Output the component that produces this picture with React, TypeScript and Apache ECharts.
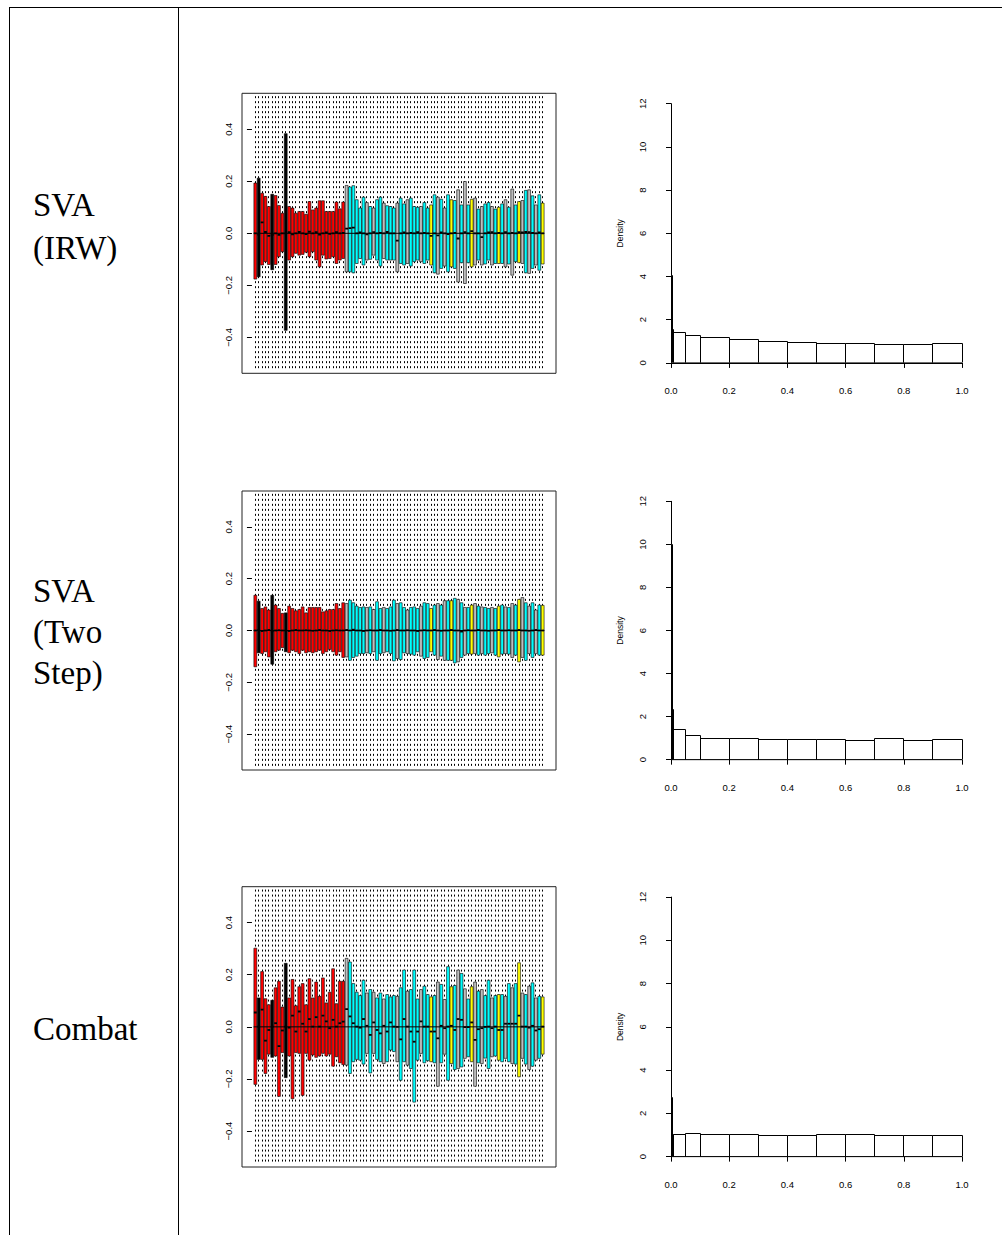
import React, { useEffect, useRef } from "react";
import * as echarts from "echarts";

// ---------------- data ----------------
const ROW_LABELS: string[][] = [["SVA", "(IRW)"], ["SVA", "(Two", "Step)"], ["Combat"]];

// batch colour of every sample (same order in all three panels)
const BATCH_CODES =
  "RKRRRKRRRKRRRRRRRRRRRRRRRRR" +
  "GCCCCCGCGCCGCCCGCCGCCCGCCYCGCGCYCGCGCYGCGCCGCYCGCGCYGCGCGCY";
const BATCH_COLORS: Record<string, string> = {
  R: "#ff0000",
  K: "#000000",
  C: "#00ffff",
  G: "#bebebe",
  Y: "#ffff00",
};

// whisker ends (beyond the visible range)
const WHISKER_LOW = -0.527;
const WHISKER_HIGH = 0.527;

// ---- panel 1: SVA (IRW) ----
const P1_Q3 = [
  0.193, 0.212, 0.154, 0.142, 0.103, 0.15, 0.145, 0.107, 0.077, 0.383, 0.103, 0.097, 0.077, 0.084, 0.084, 0.073, 0.122,
  0.09, 0.097, 0.125, 0.125, 0.084, 0.084, 0.084, 0.12, 0.094, 0.12,
  0.184, 0.178, 0.183, 0.129, 0.097, 0.139, 0.118, 0.103, 0.097, 0.129, 0.139, 0.116, 0.106, 0.103, 0.097, 0.116, 0.135,
  0.113, 0.129, 0.135, 0.103, 0.1, 0.103, 0.118, 0.097, 0.109, 0.148, 0.139, 0.131, 0.097, 0.148, 0.129, 0.126, 0.167,
  0.109, 0.199, 0.109, 0.131, 0.135, 0.093, 0.103, 0.113, 0.118, 0.103, 0.093, 0.1, 0.113, 0.129, 0.1, 0.17, 0.109,
  0.122, 0.126, 0.165, 0.167, 0.144, 0.109, 0.148, 0.116,
];
const P1_Q1 = [
  -0.176, -0.167, -0.122, -0.109, -0.12, -0.14, -0.12, -0.09, -0.071, -0.373, -0.103, -0.09, -0.077, -0.084, -0.081,
  -0.073, -0.09, -0.071, -0.103, -0.129, -0.084, -0.099, -0.097, -0.09, -0.116, -0.103, -0.097,
  -0.148, -0.148, -0.152, -0.116, -0.097, -0.122, -0.103, -0.1, -0.084, -0.103, -0.126, -0.097, -0.103, -0.103, -0.103,
  -0.148, -0.116, -0.122, -0.116, -0.126, -0.109, -0.103, -0.109, -0.116, -0.103, -0.122, -0.152, -0.157, -0.135,
  -0.126, -0.148, -0.129, -0.135, -0.187, -0.113, -0.193, -0.113, -0.129, -0.122, -0.103, -0.122, -0.118, -0.103,
  -0.122, -0.116, -0.116, -0.116, -0.129, -0.118, -0.161, -0.109, -0.113, -0.116, -0.152, -0.154, -0.135, -0.122,
  -0.142, -0.118,
];
const P1_MED = [
  0.0, -0.005, 0.042, 0.005, -0.01, -0.006, 0.0, -0.006, 0.0, 0.0, 0.004, -0.004, 0.0, 0.005, 0.0, -0.003, 0.006, 0.0,
  0.004, -0.005, 0.0, 0.003, -0.002, 0.0, 0.004, 0.0, 0.002,
  0.018, 0.02, 0.022, 0.0, 0.003, 0.0, -0.004, 0.0, 0.004, 0.0, 0.002, 0.0, 0.005, 0.0, 0.0, -0.028, 0.0, 0.003, 0.0,
  0.002, 0.0, 0.004, 0.0, 0.002, 0.0, -0.01, 0.0, -0.008, 0.003, 0.0, -0.003, 0.0, 0.002, -0.02, 0.0, 0.004, 0.0, 0.008,
  0.0, 0.0, -0.015, 0.0, 0.003, 0.004, 0.0, 0.002, 0.0, 0.004, 0.0, 0.002, 0.0, 0.004, 0.003, 0.005, 0.004, 0.002, 0.0,
  0.003, 0.0,
];

// ---- panel 2: SVA (Two Step) ----
const P2_Q3 = [
  0.136, 0.113, 0.085, 0.091, 0.079, 0.136, 0.098, 0.085, 0.066, 0.068, 0.094, 0.085, 0.076, 0.081, 0.091, 0.068, 0.089,
  0.089, 0.089, 0.089, 0.072, 0.076, 0.081, 0.081, 0.104, 0.085, 0.107,
  0.104, 0.117, 0.107, 0.094, 0.089, 0.091, 0.089, 0.091, 0.081, 0.111, 0.085, 0.089, 0.085, 0.091, 0.117, 0.104, 0.107,
  0.089, 0.079, 0.089, 0.091, 0.085, 0.094, 0.107, 0.104, 0.085, 0.098, 0.104, 0.098, 0.115, 0.115, 0.115, 0.124, 0.12,
  0.107, 0.089, 0.089, 0.098, 0.104, 0.094, 0.091, 0.089, 0.085, 0.089, 0.085, 0.094, 0.098, 0.091, 0.089, 0.104, 0.098,
  0.12, 0.127, 0.107, 0.094, 0.107, 0.079, 0.098, 0.097,
];
const P2_Q1 = [
  -0.14, -0.086, -0.089, -0.082, -0.102, -0.13, -0.082, -0.076, -0.066, -0.082, -0.086, -0.076, -0.082, -0.089, -0.076,
  -0.086, -0.082, -0.086, -0.082, -0.076, -0.089, -0.082, -0.073, -0.082, -0.095, -0.082, -0.104,
  -0.102, -0.115, -0.104, -0.099, -0.089, -0.089, -0.086, -0.089, -0.082, -0.115, -0.089, -0.086, -0.082, -0.089,
  -0.117, -0.108, -0.112, -0.086, -0.089, -0.091, -0.095, -0.082, -0.099, -0.108, -0.104, -0.082, -0.095, -0.112,
  -0.099, -0.115, -0.115, -0.115, -0.125, -0.121, -0.104, -0.095, -0.089, -0.091, -0.089, -0.095, -0.089, -0.095,
  -0.089, -0.086, -0.095, -0.102, -0.091, -0.089, -0.091, -0.104, -0.095, -0.121, -0.104, -0.115, -0.089, -0.104,
  -0.089, -0.095, -0.095,
];
const P2_MED = [
  0.0, 0.002, -0.002, 0.0, 0.002, -0.003, 0.0, 0.001, 0.0, 0.0, -0.002, 0.0, 0.002, 0.0, 0.0, 0.001, 0.0, -0.001, 0.0,
  0.002, 0.0, 0.0, -0.002, 0.0, 0.001, 0.0, 0.0,
  0.002, 0.0, 0.003, 0.0, 0.0, -0.002, 0.0, 0.001, 0.0, 0.0, 0.002, 0.0, 0.0, -0.001, 0.0, 0.002, 0.0, 0.0, 0.001, 0.0,
  0.0, -0.002, 0.0, 0.001, 0.0, 0.0, 0.002, 0.0, -0.001, 0.0, 0.0, 0.002, 0.0, 0.0, -0.004, 0.0, 0.001, 0.0, 0.0, 0.002,
  0.0, 0.0, -0.001, 0.0, 0.0, 0.002, 0.0, 0.0, 0.001, 0.0, 0.0, 0.002, 0.0, 0.0, -0.001, 0.0, 0.002, 0.0, 0.0,
];

// ---- panel 3: Combat ----
const P3_Q3 = [
  0.302, 0.111, 0.212, 0.108, 0.085, 0.102, 0.15, 0.175, 0.076, 0.244, 0.111, 0.182, 0.081, 0.154, 0.166, 0.085, 0.185,
  0.111, 0.172, 0.117, 0.188, 0.092, 0.133, 0.223, 0.089, 0.175, 0.175,
  0.263, 0.249, 0.166, 0.133, 0.12, 0.179, 0.13, 0.143, 0.133, 0.111, 0.13, 0.107, 0.124, 0.115, 0.12, 0.117, 0.15,
  0.218, 0.137, 0.143, 0.218, 0.107, 0.143, 0.156, 0.124, 0.115, 0.12, 0.172, 0.163, 0.105, 0.231, 0.154, 0.159, 0.218,
  0.205, 0.146, 0.107, 0.154, 0.172, 0.137, 0.143, 0.12, 0.179, 0.111, 0.12, 0.124, 0.124, 0.117, 0.166, 0.15, 0.166,
  0.246, 0.13, 0.124, 0.156, 0.169, 0.111, 0.117, 0.115,
];
const P3_Q1 = [
  -0.221, -0.125, -0.125, -0.179, -0.105, -0.117, -0.112, -0.267, -0.099, -0.195, -0.112, -0.276, -0.099, -0.102,
  -0.263, -0.102, -0.128, -0.108, -0.117, -0.112, -0.102, -0.112, -0.105, -0.151, -0.115, -0.138, -0.145,
  -0.147, -0.179, -0.134, -0.125, -0.128, -0.143, -0.102, -0.177, -0.102, -0.125, -0.134, -0.141, -0.134, -0.089,
  -0.095, -0.134, -0.205, -0.134, -0.147, -0.16, -0.289, -0.128, -0.102, -0.138, -0.13, -0.134, -0.138, -0.228, -0.138,
  -0.105, -0.205, -0.141, -0.164, -0.16, -0.154, -0.121, -0.115, -0.134, -0.228, -0.138, -0.141, -0.12, -0.16, -0.115,
  -0.112, -0.128, -0.134, -0.121, -0.134, -0.141, -0.143, -0.192, -0.121, -0.143, -0.164, -0.151, -0.128, -0.121,
  -0.105,
];
const P3_MED = [
  0.055, 0.001, 0.066, -0.053, -0.012, 0.001, 0.014, -0.074, -0.014, 0.001, -0.003, 0.043, -0.018, 0.059, 0.012, -0.018,
  0.03, 0.001, 0.037, 0.001, 0.043, 0.021, -0.005, 0.027, 0.001, 0.014, 0.02,
  0.068, 0.04, 0.014, 0.001, -0.003, 0.03, 0.004, -0.031, 0.017, -0.012, -0.025, 0.004, -0.018, 0.017, 0.001, 0.0,
  -0.048, 0.03, 0.001, -0.018, -0.057, -0.018, 0.021, 0.001, 0.001, -0.018, -0.018, -0.044, 0.004, -0.005, 0.001, 0.004,
  -0.012, 0.03, 0.027, -0.001, -0.001, 0.017, -0.05, -0.009, -0.005, 0.0, 0.001, -0.005, 0.001, -0.012, -0.012, 0.012,
  0.012, 0.012, 0.012, 0.043, 0.001, 0.001, -0.003, 0.004, -0.014, -0.009, 0.001,
];

const Y_TICKS = [-0.4, -0.2, 0, 0.2, 0.4];

// ---- p-value histograms ----
const HIST_BREAKS = [0, 0.001, 0.01, 0.05, 0.1, 0.2, 0.3, 0.4, 0.5, 0.6, 0.7, 0.8, 0.9, 1.0];
const HIST1_DENSITY = [4.05, 1.56, 1.4, 1.28, 1.2, 1.07, 1.0, 0.93, 0.89, 0.89, 0.85, 0.85, 0.89];
const HIST2_DENSITY = [10.0, 2.31, 1.42, 1.11, 1.0, 1.0, 0.95, 0.96, 0.94, 0.89, 1.0, 0.91, 0.96];
const HIST3_DENSITY = [2.73, 1.0, 1.0, 1.05, 1.0, 1.03, 0.98, 0.99, 1.03, 1.0, 0.99, 0.98, 0.97];

// ---------------- layout ----------------
const W = 1002;
const H = 1235;
const PANEL_V: [number, number][] = [
  [93.3, 373.3],
  [491, 770],
  [886.7, 1167],
];
const BOX_LEFT = 242;
const BOX_WIDTH = 314;
const HIST_LEFT = 671;
const HIST_WIDTH = 291;
const LABEL_X = 33;
const LABEL_Y: number[][] = [[205, 248], [591, 632, 673], [1029]];

const FONT_SANS = "'Liberation Sans', Arial, Helvetica, sans-serif";
const FONT_SERIF = "'Liberation Serif', 'DejaVu Serif', serif";

const crisp = (v: number) => Math.round(v - 0.5) + 0.5;

const App: React.FC = () => {
  const ref = useRef<HTMLDivElement>(null);

  useEffect(() => {
    document.body.style.margin = "0";
    if (!ref.current) return;
    const chart = echarts.init(ref.current, undefined, { renderer: "svg", width: W, height: H });

    const n = BATCH_CODES.length;
    const xMin = 0.5 - 0.04 * n;
    const xMax = n + 0.5 + 0.04 * n;
    const halfBox = 0.42;

    const panels = [
      { q1: P1_Q1, med: P1_MED, q3: P1_Q3, hist: HIST1_DENSITY },
      { q1: P2_Q1, med: P2_MED, q3: P2_Q3, hist: HIST2_DENSITY },
      { q1: P3_Q1, med: P3_MED, q3: P3_Q3, hist: HIST3_DENSITY },
    ];

    const grids: any[] = [];
    const xAxes: any[] = [];
    const yAxes: any[] = [];
    const series: any[] = [];

    const fmt = (v: number) => {
      const s = (Math.abs(v) < 1e-9 ? 0 : v).toFixed(1);
      return s.replace("-", "\u2212");
    };

    panels.forEach((p, i) => {
      const [T, B] = PANEL_V[i];
      const boxGrid = i * 2;
      const histGrid = i * 2 + 1;
      grids.push({
        left: BOX_LEFT,
        top: T,
        width: BOX_WIDTH,
        height: B - T,
        show: true,
        borderColor: "#222",
        borderWidth: 1,
        backgroundColor: "transparent",
        containLabel: false,
        outerBoundsMode: "none",
      });
      const hh = (B - T) / 1.08;
      grids.push({
        left: HIST_LEFT,
        top: T + (B - T) * (0.04 / 1.08),
        width: HIST_WIDTH,
        height: hh,
        show: false,
        containLabel: false,
        outerBoundsMode: "none",
      });

      xAxes.push({
        gridIndex: boxGrid,
        type: "value",
        min: xMin,
        max: xMax,
        show: false,
      });
      yAxes.push({
        gridIndex: boxGrid,
        type: "value",
        min: -0.538,
        max: 0.538,
        axisLine: { show: false },
        axisTick: {
          show: true,
          inside: false,
          length: 5,
          customValues: Y_TICKS,
          lineStyle: { color: "#000", width: 1 },
        },
        axisLabel: {
          show: true,
          customValues: Y_TICKS,
          rotate: 90,
          margin: 9,
          fontSize: 9.5,
          color: "#000",
          fontFamily: FONT_SANS,
          formatter: fmt,
        },
        splitLine: { show: false },
      });

      xAxes.push({
        gridIndex: histGrid,
        type: "value",
        min: 0,
        max: 1,
        interval: 0.2,
        offset: 10,
        axisLine: { show: true, lineStyle: { color: "#000", width: 1 } },
        axisTick: { show: true, length: 5, lineStyle: { color: "#000", width: 1 } },
        axisLabel: {
          margin: 13,
          fontSize: 9.5,
          color: "#000",
          fontFamily: FONT_SANS,
          formatter: (v: number) => v.toFixed(1),
        },
        splitLine: { show: false },
      });
      yAxes.push({
        gridIndex: histGrid,
        type: "value",
        min: 0,
        max: 12,
        interval: 2,
        offset: 11.6,
        name: "Density",
        nameLocation: "middle",
        nameRotate: 90,
        nameGap: 35,
        nameTextStyle: { fontSize: 8.5, color: "#000", fontFamily: FONT_SANS },
        axisLine: { show: true, lineStyle: { color: "#000", width: 1 } },
        axisTick: { show: true, length: 5, lineStyle: { color: "#000", width: 1 } },
        axisLabel: {
          rotate: 90,
          margin: 12,
          fontSize: 9.5,
          color: "#000",
          fontFamily: FONT_SANS,
        },
        splitLine: { show: false },
      });

      const boxData = p.q1.map((v, k) => [k + 1, v, p.med[k], p.q3[k], k]);

      // dashed whiskers
      series.push({
        type: "custom",
        xAxisIndex: boxGrid,
        yAxisIndex: boxGrid,
        clip: true,
        silent: true,
        z: 1,
        data: boxData,
        encode: { x: 0, y: [1, 3] },
        renderItem: (_params: any, api: any) => {
          const x = api.value(0);
          const a = api.coord([x, WHISKER_HIGH]);
          const b = api.coord([x, WHISKER_LOW]);
          const px = crisp(a[0]);
          return {
            type: "line",
            shape: { x1: px, y1: a[1], x2: px, y2: b[1] },
            style: { stroke: "#000", lineWidth: 1, lineDash: [2, 3] },
          };
        },
      });
      // boxes + medians
      series.push({
        type: "custom",
        xAxisIndex: boxGrid,
        yAxisIndex: boxGrid,
        clip: true,
        silent: true,
        z: 2,
        data: boxData,
        encode: { x: 0, y: [1, 2, 3] },
        renderItem: (_params: any, api: any) => {
          const x = api.value(0);
          const q1 = api.value(1);
          const med = api.value(2);
          const q3 = api.value(3);
          const idx = api.value(4);
          const tl = api.coord([x - halfBox, q3]);
          const br = api.coord([x + halfBox, q1]);
          const ml = api.coord([x - halfBox, med]);
          const mr = api.coord([x + halfBox, med]);
          return {
            type: "group",
            children: [
              {
                type: "rect",
                shape: { x: tl[0], y: tl[1], width: br[0] - tl[0], height: br[1] - tl[1] },
                style: { fill: BATCH_COLORS[BATCH_CODES[idx]], stroke: "#000", lineWidth: 0.6 },
              },
              {
                type: "line",
                shape: { x1: ml[0], y1: ml[1], x2: mr[0], y2: mr[1] },
                style: { stroke: "#000", lineWidth: 1.8 },
              },
            ],
          };
        },
      });
      // horizontal reference at 0
      series.push({
        type: "line",
        xAxisIndex: boxGrid,
        yAxisIndex: boxGrid,
        data: [
          [0.5, 0],
          [n + 0.5, 0],
        ],
        symbol: "none",
        silent: true,
        z: 3,
        lineStyle: { color: "#000", width: 1 },
      });

      // histogram bins (narrow bins get a 1px minimum width so they stay visible)
      const histData = HIST_BREAKS.slice(0, -1)
        .map((lo, k) => ({ value: [lo, HIST_BREAKS[k + 1], p.hist[k]] }))
        .reverse();
      series.push({
        type: "custom",
        xAxisIndex: histGrid,
        yAxisIndex: histGrid,
        clip: false,
        silent: true,
        z: 2,
        dimensions: ["lo", "hi", "density"],
        data: histData,
        encode: { x: ["lo", "hi"], y: "density" },
        renderItem: (_params: any, api: any) => {
          const a = api.coord([api.value(0), api.value(2)]);
          const b = api.coord([api.value(1), 0]);
          const x0 = crisp(a[0]);
          const x1 = Math.max(crisp(b[0]), x0 + 1);
          const yTop = crisp(a[1]);
          const yBot = crisp(b[1]);
          return {
            type: "group",
            children: [
              {
                type: "rect",
                shape: { x: x0, y: yTop, width: x1 - x0, height: yBot - yTop },
                style: { fill: "#fff", lineWidth: 0 },
              },
              {
                type: "polyline",
                shape: {
                  points: [
                    [x0, yBot],
                    [x0, yTop],
                    [x1, yTop],
                    [x1, yBot],
                  ],
                },
                style: { fill: "none", stroke: "#000", lineWidth: 1 },
              },
            ],
          };
        },
      });
      // bottom edge of the histogram bars
      series.push({
        type: "line",
        xAxisIndex: histGrid,
        yAxisIndex: histGrid,
        clip: false,
        data: [
          [0, 0],
          [1, 0],
        ],
        symbol: "none",
        silent: true,
        z: 3,
        lineStyle: { color: "#000", width: 1 },
      });
    });

    const graphics: any[] = [
      { type: "line", shape: { x1: 9.5, y1: 7.5, x2: W, y2: 7.5 }, style: { stroke: "#000", lineWidth: 1 } },
      { type: "line", shape: { x1: 9.5, y1: 7, x2: 9.5, y2: H }, style: { stroke: "#000", lineWidth: 1 } },
      { type: "line", shape: { x1: 178.5, y1: 7, x2: 178.5, y2: H }, style: { stroke: "#000", lineWidth: 1 } },
    ];
    ROW_LABELS.forEach((lines, i) => {
      lines.forEach((t, j) => {
        graphics.push({
          type: "text",
          x: LABEL_X,
          y: LABEL_Y[i][j],
          style: {
            text: t,
            fill: "#000",
            fontSize: 33,
            fontFamily: FONT_SERIF,
            verticalAlign: "middle",
            align: "left",
          },
        });
      });
    });

    chart.setOption({
      animation: false,
      backgroundColor: "#fff",
      grid: grids,
      xAxis: xAxes,
      yAxis: yAxes,
      series,
      graphic: graphics,
    });

    return () => {
      chart.dispose();
    };
  }, []);

  return <div ref={ref} style={{ width: W, height: H }} />;
};

export default App;
